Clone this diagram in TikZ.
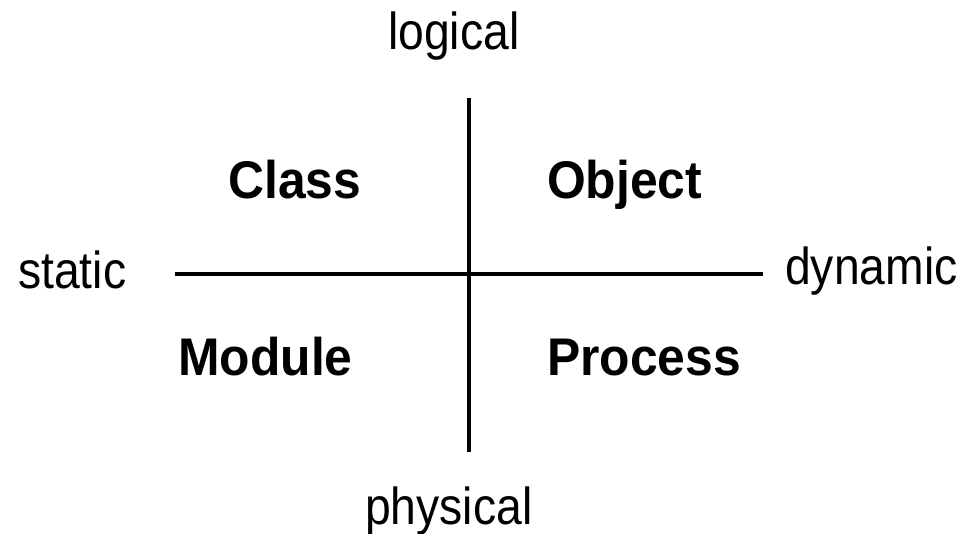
\documentclass[tikz,border=0pt]{standalone}
\usepackage{fontspec}
\setmainfont{Liberation Sans}[FakeStretch=0.89]
\newfontfamily\quadfont{Liberation Sans}[FakeStretch=0.94]
\begin{document}
\begin{tikzpicture}[x=1pt,y=1pt,
  axislabel/.style={anchor=base west,inner sep=0pt,font=\fontsize{52}{60}\selectfont},
  quadlabel/.style={anchor=base west,inner sep=0pt,font=\quadfont\fontsize{53}{60}\selectfont\bfseries},
  axis/.style={line width=4.5pt}]
\useasboundingbox (0,0) rectangle (962,534);
\coordinate (top) at (469,436);
\coordinate (bottom) at (469,82);
\coordinate (left) at (175,260);
\coordinate (right) at (763,260);
\draw[axis] (top) -- (bottom);
\draw[axis] (left) -- (right);
\node[axislabel] (logical) at (388,484) {logical};
\node[axislabel] (physical) at (365,9) {physical};
\node[axislabel] (static) at (18,245) {static};
\node[axislabel] (dynamic) at (785,249) {dynamic};
\node[quadlabel] (class) at (228,335) {Class};
\node[quadlabel] (object) at (547,335) {Object};
\node[quadlabel] (module) at (178,158) {Module};
\node[quadlabel] (process) at (547,158) {Process};
\end{tikzpicture}
\end{document}
